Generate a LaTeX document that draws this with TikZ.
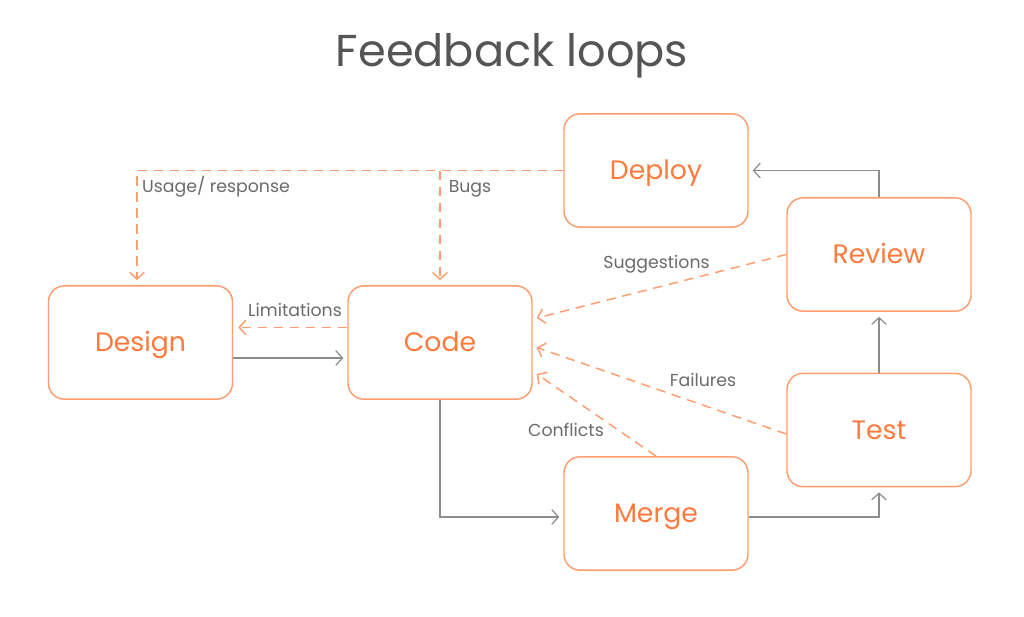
\documentclass[tikz,border=0pt]{standalone}
\usepackage{fontspec}
\setmainfont{Poppins}
\usetikzlibrary{arrows.meta,calc}
\definecolor{org}{HTML}{FF7A3C}
\definecolor{orgline}{HTML}{FF9D6E}
\definecolor{grl}{HTML}{8C8C8C}
\definecolor{grt}{HTML}{6B6B6B}
\definecolor{ttl}{HTML}{555555}
\begin{document}
\begin{tikzpicture}[x=0.75pt,y=-0.75pt,
  box/.style={draw=orgline, line width=1.1pt, rounded corners=12pt, minimum width=138pt, minimum height=85pt, inner sep=0pt, text height=14pt, text depth=0pt, font=\fontsize{20}{24}\selectfont, text=org},
  flow/.style={draw=grl, line width=0.9pt, -{Straight Barb[length=5pt,width=11pt]}},
  fb/.style={draw=orgline, line width=1.1pt, dash pattern=on 7pt off 5pt, -{Straight Barb[length=5pt,width=11pt]}},
  lbl/.style={text=grt, font=\fontsize{13}{15}\selectfont, inner sep=0pt, text height=9pt, text depth=0pt},
  ttlstyle/.style={text=ttl, font=\fontsize{33.5}{40}\selectfont, inner sep=0pt, anchor=base}]
\useasboundingbox[fill=white] (0,0) rectangle (1024,617);
\node[ttlstyle] (title) at (512,67) {Feedback loops};
\node[box] (deploy) at (656,170.5) {Deploy};
\node[box] (review) at (879,254.5) {Review};
\node[box] (design) at (140.5,342.5) {Design};
\node[box] (code) at (440,342.5) {Code};
\node[box] (test) at (879,430) {Test};
\node[box] (merge) at (656,513.5) {Merge};
% main flow
\draw[flow] ($(design.east)+(0,15.5)$) -- ($(code.west)+(-4,15.5)$);
\draw[flow] (code.south) |- ($(merge.west)+(-4,3.5)$);
\draw[flow] ($(merge.east)+(0,3.5)$) -| ($(test.south)+(0,5)$);
\draw[flow] (test.north) -- ($(review.south)+(0,5)$);
\draw[flow] (review.north) |- ($(deploy.east)+(4,0)$);
% feedback
\draw[fb] ($(code.west)+(0,-15)$) -- ($(design.east)+(5,-15)$);
\draw[fb] (deploy.west) -| ($(design.north)+(-3.5,-5)$);
\coordinate (bj) at (code.north |- deploy.west);
\draw[fb] (bj) -- ($(code.north)+(0,-5)$);
\draw[fb] (review.west) -- ($(code.east)+(4,-24.5)$);
\draw[fb] ($(test.west)+(0,4)$) -- ($(code.east)+(4,5)$);
\draw[fb] (merge.north) -- ($(code.east)+(4,31.5)$);
% labels
\node[lbl] (l1) at (216,186) {Usage/ response};
\node[lbl] (l2) at (470,186) {Bugs};
\node[lbl] (l3) at (295,310.5) {Limitations};
\node[lbl] (l4) at (656.5,262.5) {Suggestions};
\node[lbl] (l5) at (703,380) {Failures};
\node[lbl] (l6) at (566,430) {Conflicts};
\end{tikzpicture}
\end{document}
